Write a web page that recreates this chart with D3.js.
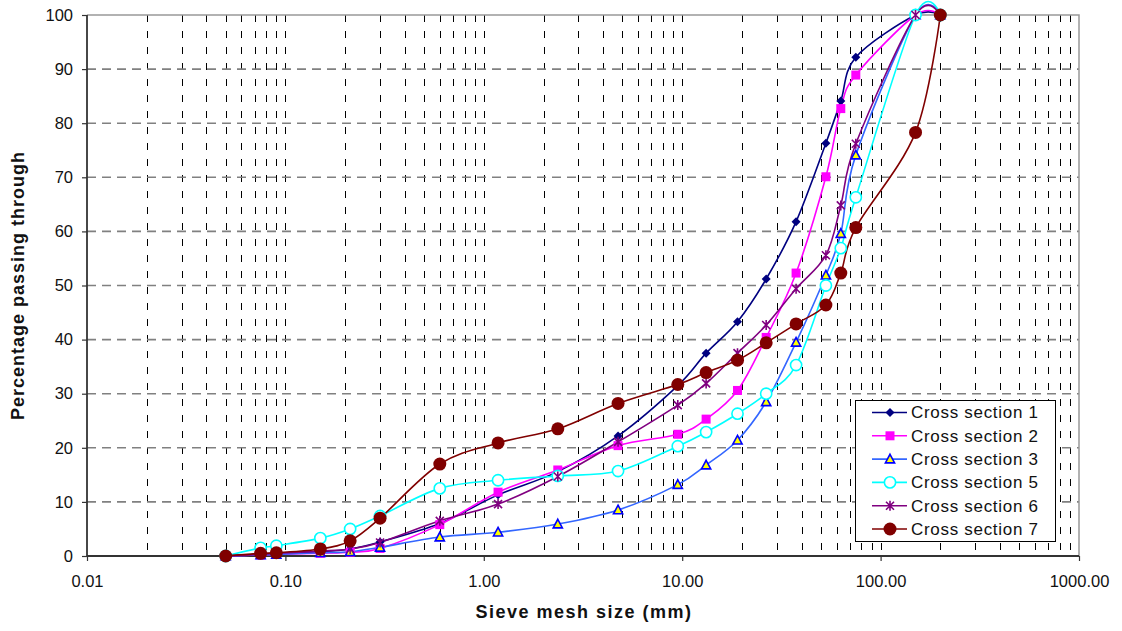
<!DOCTYPE html>
<html>
<head>
<meta charset="utf-8">
<script src="https://cdn.jsdelivr.net/npm/d3@7"></script>
<style>
  html, body { margin: 0; padding: 0; background: #fff; }
  svg { display: block; font-family: "Liberation Sans", Arial, sans-serif; }
</style>
</head>
<body>
<svg id="chart" width="1122" height="631"></svg>
<script>
// Sieve sizes (mm) and percentage passing for each cross section
const sieveSizes = [0.05, 0.075, 0.09, 0.15, 0.212, 0.3, 0.6, 1.18, 2.36, 4.75, 9.5, 13.2, 19, 26.5, 37.5, 53, 63, 75, 150, 200];

const section1 = [0, 0.3, 0.5, 0.8, 1.3, 2.6, 6.0, 11.3, 15.6, 22.2, 31.5, 37.5, 43.3, 51.2, 61.8, 76.3, 84.1, 92.2, 100, 100];
const section2 = [0, 0.2, 0.3, 0.5, 0.7, 1.4, 5.8, 11.8, 15.9, 20.4, 22.5, 25.3, 30.6, 40.4, 52.3, 70.1, 82.7, 88.9, 100, 100];
const section3 = [0, 0.2, 0.3, 0.6, 0.8, 1.6, 3.5, 4.4, 5.9, 8.5, 13.2, 16.8, 21.4, 28.5, 39.5, 51.9, 59.6, 74.1, 100, 100];
const section5 = [0, 1.5, 1.9, 3.3, 5.0, 7.4, 12.5, 14.0, 14.8, 15.7, 20.3, 22.9, 26.3, 30.0, 35.3, 50.0, 56.9, 66.3, 100, 100];
const section6 = [0, 0.3, 0.5, 0.9, 1.3, 2.5, 6.5, 9.6, 14.7, 21.1, 27.9, 31.9, 37.5, 42.7, 49.4, 55.6, 64.8, 76.2, 100, 100];
const section7 = [0, 0.5, 0.6, 1.3, 2.8, 7.0, 17.0, 20.9, 23.5, 28.2, 31.7, 33.9, 36.2, 39.4, 42.9, 46.4, 52.3, 60.7, 78.3, 100];

const seriesNames = ["Cross section 1", "Cross section 2", "Cross section 3", "Cross section 5", "Cross section 6", "Cross section 7"];
const seriesValues = [section1, section2, section3, section5, section6, section7];

const yTicks = [0, 10, 20, 30, 40, 50, 60, 70, 80, 90, 100];
const xTicks = [0.01, 0.1, 1, 10, 100, 1000];
const xTickLabels = ["0.01", "0.10", "1.00", "10.00", "100.00", "1000.00"];

// Line colour and marker style per series
const styles = [
  { line: "#000080", marker: "diamond" },
  { line: "#FF00FF", marker: "square" },
  { line: "#3366FF", marker: "triangle" },
  { line: "#00FFFF", marker: "ring" },
  { line: "#800080", marker: "star" },
  { line: "#800000", marker: "dot" }
];

const svg = d3.select("#chart");
const plot = { left: 87, top: 15, right: 1079, bottom: 556 };

const x = d3.scaleLog().domain([0.01, 1000]).range([plot.left, plot.right]);
const y = d3.scaleLinear().domain([0, 100]).range([plot.bottom, plot.top]);

// Vertical gridlines at every 1..9 step within each decade
const minorX = [];
for (let e = -2; e <= 2; e++) {
  for (let k = 1; k <= 9; k++) {
    const v = k * Math.pow(10, e);
    if (v > 0.01 && v < 1000) minorX.push(v);
  }
}
svg.append("g").selectAll("line").data(minorX).join("line")
  .attr("x1", d => Math.round(x(d)) + 0.5).attr("x2", d => Math.round(x(d)) + 0.5)
  .attr("y1", plot.top).attr("y2", plot.bottom)
  .attr("stroke", "#000").attr("stroke-width", 1)
  .attr("stroke-dasharray", "7,9");

// Horizontal gridlines
svg.append("g").selectAll("line").data(yTicks.filter(t => t > 0 && t < 100)).join("line")
  .attr("x1", plot.left).attr("x2", plot.right)
  .attr("y1", d => y(d)).attr("y2", d => y(d))
  .attr("stroke", "#808080").attr("stroke-width", 1.6)
  .attr("stroke-dasharray", "9,6");

// Plot frame (top and right)
svg.append("path")
  .attr("d", `M${plot.left},${plot.top}H${plot.right}V${plot.bottom}`)
  .attr("fill", "none").attr("stroke", "#999").attr("stroke-width", 1.5);

// Axes
const yAxis = d3.axisLeft(y).tickValues(yTicks).tickSize(5).tickPadding(9).tickFormat(d3.format("d"));
const gy = svg.append("g").attr("transform", `translate(${plot.left},0)`).call(yAxis);
const xAxis = d3.axisBottom(x).tickValues(xTicks).tickSize(5).tickPadding(14)
  .tickFormat((d, i) => xTickLabels[i]);
const gx = svg.append("g").attr("transform", `translate(0,${plot.bottom})`).call(xAxis);

[gx, gy].forEach(g => {
  g.select(".domain").attr("stroke", "#333").attr("stroke-width", 1.8);
  g.selectAll(".tick line").attr("stroke", "#333").attr("stroke-width", 1.2);
  g.selectAll(".tick text").attr("fill", "#111").style("font-size", "16.5px")
    .style("font-family", "'Liberation Sans', Arial, sans-serif");
});
gy.select(".domain").attr("d", `M0,${plot.bottom}V${plot.top}`);
gx.select(".domain").attr("d", `M${plot.left},0H${plot.right}`);

// Smoothed series lines
const line = d3.line()
  .x((d, i) => x(sieveSizes[i]))
  .y(d => y(d))
  .curve(d3.curveCatmullRom.alpha(0));

svg.append("g").selectAll("path").data(seriesValues).join("path")
  .attr("d", d => line(d))
  .attr("fill", "none")
  .attr("stroke", (d, i) => styles[i].line)
  .attr("stroke-width", 1.6);

// Marker drawing
function drawMarker(g, type, color) {
  switch (type) {
    case "diamond":
      g.append("path").attr("d", "M0,-4.5L4.5,0L0,4.5L-4.5,0Z").attr("fill", "#000080");
      break;
    case "square":
      g.append("rect").attr("x", -4.5).attr("y", -4.5).attr("width", 9).attr("height", 9).attr("fill", "#FF00FF");
      break;
    case "triangle":
      g.append("path").attr("d", "M0,-4.8L4.6,3.8L-4.6,3.8Z")
        .attr("fill", "#FFFF00").attr("stroke", "#0000FF").attr("stroke-width", 1.6);
      break;
    case "ring":
      g.append("circle").attr("r", 5.6).attr("fill", "#fff").attr("stroke", "#00FFFF").attr("stroke-width", 1.6);
      break;
    case "star":
      g.append("path").attr("d", "M-4,-4L4,4M-4,4L4,-4M0,-5V5")
        .attr("stroke", "#800080").attr("stroke-width", 1.6).attr("fill", "none");
      break;
    case "dot":
      g.append("circle").attr("r", 6.5).attr("fill", "#800000");
      break;
  }
}

seriesValues.forEach((vals, si) => {
  const g = svg.append("g");
  vals.forEach((v, i) => {
    const m = g.append("g").attr("transform", `translate(${x(sieveSizes[i])},${y(v)})`);
    drawMarker(m, styles[si].marker, styles[si].line);
  });
});

// Legend
const legend = svg.append("g").attr("transform", "translate(855,400)");
legend.append("rect").attr("x", 0.5).attr("y", 0.5).attr("width", 200).attr("height", 141)
  .attr("fill", "#fff").attr("stroke", "#000").attr("stroke-width", 1);
seriesNames.forEach((name, i) => {
  const row = legend.append("g").attr("transform", `translate(0,${12.5 + i * 23.3})`);
  row.append("line").attr("x1", 17).attr("x2", 52).attr("y1", 0).attr("y2", 0)
    .attr("stroke", styles[i].line).attr("stroke-width", 1.6);
  const m = row.append("g").attr("transform", "translate(35,0)");
  drawMarker(m, styles[i].marker, styles[i].line);
  row.append("text").attr("x", 56).attr("y", 0).attr("dy", "0.35em")
    .attr("fill", "#111").style("font-size", "17px").style("letter-spacing", "0.7px")
    .text(name);
});

// Axis titles
svg.append("text")
  .attr("x", (plot.left + plot.right) / 2 + 1).attr("y", 618)
  .attr("text-anchor", "middle")
  .style("font-size", "18px").style("font-weight", "bold").style("letter-spacing", "1.5px")
  .attr("fill", "#111")
  .text("Sieve mesh size (mm)");

svg.append("text")
  .attr("transform", `translate(24,${(plot.top + plot.bottom) / 2}) rotate(-90)`)
  .attr("text-anchor", "middle")
  .style("font-size", "18px").style("font-weight", "bold").style("letter-spacing", "1px")
  .attr("fill", "#111")
  .text("Percentage passing through");
</script>
</body>
</html>
